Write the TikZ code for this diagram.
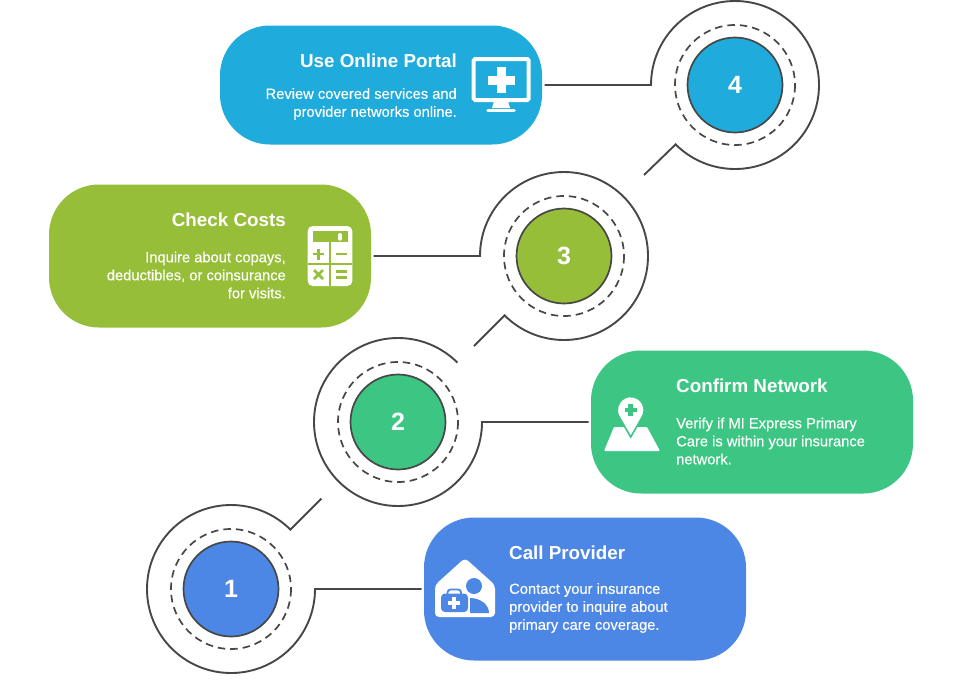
\documentclass[tikz,border=0pt]{standalone}
\usepackage{fontspec}
\setmainfont{Liberation Sans}
\newfontfamily\cardbodyfont[FakeBold=0.25]{Liberation Sans}
\definecolor{cyancard}{HTML}{1FABDB}
\definecolor{limecard}{HTML}{96BE39}
\definecolor{mintcard}{HTML}{3DC683}
\definecolor{bluecard}{HTML}{4D87E6}
\definecolor{inkline}{HTML}{474747}
\tikzset{
    cardbox/.style={fill=#1, rounded corners=50pt, minimum width=322pt, minimum height=143pt, inner sep=0pt, outer sep=2.5pt},
    numdisc/.style={circle, fill=#1, draw=inkline, line width=1.7pt, minimum size=95pt, inner sep=0pt, text=white, font=\fontsize{25}{25}\selectfont\bfseries},
    dashring/.style={draw=inkline, line width=1.7pt, dash pattern=on 7.5pt off 5pt},
    ringline/.style={draw=inkline, line width=1.9pt, miter limit=10},
    titletext/.style={text=white, inner sep=0pt, font=\fontsize{18.8}{22}\selectfont\bfseries},
    bodytext/.style={text=white, inner sep=0pt, font=\fontsize{14.7}{18}\cardbodyfont\selectfont}
}
\begin{document}
\begin{tikzpicture}[x=1pt, y=-1pt]
    \useasboundingbox (0, 0) rectangle (960, 689);

    % cards
    \node[cardbox=cyancard, minimum height=119pt] (card4) at (381, 85) {};
    \node[cardbox=limecard] (card3) at (210, 256) {};
    \node[cardbox=mintcard] (card2) at (752, 422) {};
    \node[cardbox=bluecard] (card1) at (585, 589) {};

    % numbered discs
    \node[numdisc=cyancard] (disc4) at (735, 85) {4};
    \node[numdisc=limecard] (disc3) at (564, 256) {3};
    \node[numdisc=mintcard] (disc2) at (398, 422) {2};
    \node[numdisc=bluecard] (disc1) at (231, 589) {1};

    \draw[dashring] (735, 85) circle (60);
    \draw[dashring] (564, 256) circle (60);
    \draw[dashring] (398, 422) circle (60);
    \draw[dashring] (231, 589) circle (60);

    % rings with their connectors
    \coordinate (bend4) at (651, 85);
    \coordinate (bend3) at (480, 256);
    \coordinate (bend2) at (482, 422);
    \coordinate (bend1) at (315, 589);
    \coordinate (tail4) at (644, 175);
    \coordinate (tail3) at (474, 346);
    \coordinate (tail1) at (321.5, 498.5);

    \draw[ringline] (card4.east) -- (bend4) arc (180:495:84) -- (tail4);
    \draw[ringline] (card3.east) -- (bend3) arc (180:495:84) -- (tail3);
    \draw[ringline] (card2.west) -- (bend2) arc (0:315:84);
    \draw[ringline] (card1.west) -- (bend1) arc (0:315:84) -- (tail1);

    % texts
    \node[titletext, anchor=east] (title4) at (457, 61) {Use Online Portal};
    \node[bodytext, anchor=east, align=right] (body4) at (457, 104) {Review covered services and\\provider networks online.};

    \node[titletext, anchor=east] (title3) at (286, 220) {Check Costs};
    \node[bodytext, anchor=east, align=right] (body3) at (286, 275) {Inquire about copays,\\deductibles, or coinsurance\\for visits.};

    \node[titletext, anchor=west] (title2) at (676, 386) {Confirm Network};
    \node[bodytext, anchor=west, align=left] (body2) at (676, 441) {Verify if MI Express Primary\\Care is within your insurance\\network.};

    \node[titletext, anchor=west] (title1) at (509, 553) {Call Provider};
    \node[bodytext, anchor=west, align=left] (body1) at (509, 608) {Contact your insurance\\provider to inquire about\\primary care coverage.};

    % monitor icon
    \draw[white, line width=4pt, rounded corners=1.5pt] (473.7, 59) rectangle (528.7, 100);
    \fill[white] (494, 101) -- (508, 101) -- (510, 108) -- (492, 108) -- cycle;
    \draw[white, line width=3.6pt, line cap=round] (488, 110.5) -- (514, 110.5);
    \draw[white, line width=9pt] (488, 80) -- (514.5, 80) (501, 67) -- (501, 93);

    % calculator icon
    \fill[white, rounded corners=5pt] (307.7, 226) rectangle (352.3, 286);
    \fill[limecard] (312.7, 231) rectangle (347.7, 241.7);
    \draw[white, line width=4pt, line cap=round] (340, 235) -- (340, 238.7);
    \fill[limecard] (329.2, 241.7) rectangle (331, 286);
    \fill[limecard] (307.7, 263) rectangle (352.3, 265);
    \draw[limecard, line width=2.8pt] (313, 254) -- (324, 254) (318.5, 248.5) -- (318.5, 259.5);
    \draw[limecard, line width=2.8pt] (336, 254) -- (347, 254);
    \draw[limecard, line width=2.8pt] (314, 270) -- (323, 279) (323, 270) -- (314, 279);
    \draw[limecard, line width=2.8pt] (336, 271.5) -- (347, 271.5) (336, 277.5) -- (347, 277.5);

    % map pin icon
    \fill[white, rounded corners=1pt] (604, 451) -- (614, 427) -- (647, 427) -- (660, 451) -- cycle;
    \draw[fill=white, draw=mintcard, line width=1.6pt] (630.7, 437) -- (619, 416.75) arc (150:390:13.5) -- cycle;
    \draw[mintcard, line width=4.5pt] (624.5, 410) -- (637, 410) (630.7, 403.7) -- (630.7, 416.3);

    % house icon
    \fill[white, rounded corners=4pt] (435, 617) -- (435, 585) -- (465, 558) -- (495, 585) -- (495, 617) -- cycle;
    \fill[bluecard] (474, 586) circle (8);
    \fill[bluecard] (470, 613) -- (470, 598) arc (-90:0:19 and 15) -- cycle;
    \fill[bluecard, rounded corners=4pt] (441, 593.5) rectangle (468, 612);
    \draw[bluecard, line width=1.8pt, rounded corners=3pt] (447.5, 594) -- (447.5, 589.5) -- (461, 589.5) -- (461, 594);
    \draw[white, line width=3.2pt] (448, 603) -- (460, 603) (454, 597) -- (454, 609);
\end{tikzpicture}
\end{document}
